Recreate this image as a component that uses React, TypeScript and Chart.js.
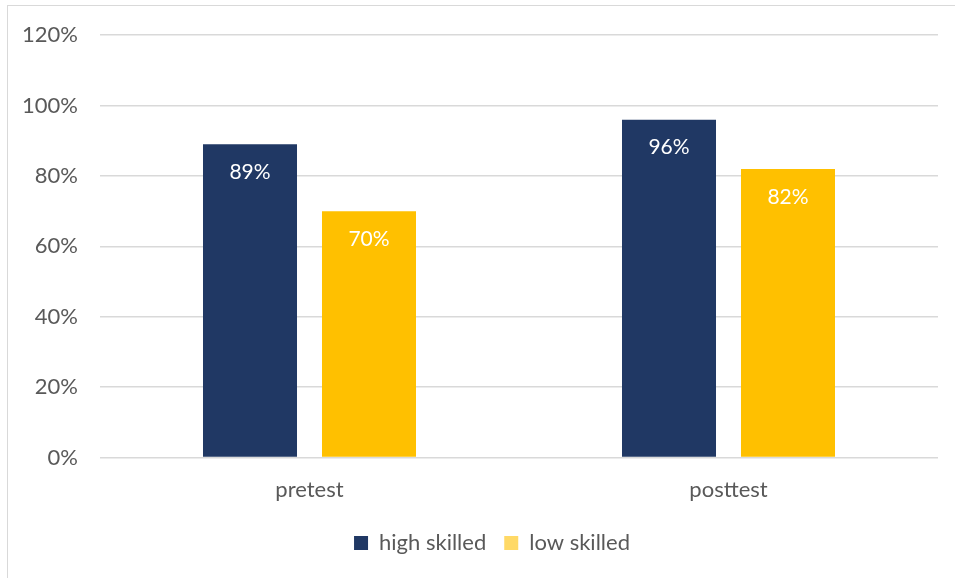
import React, { useEffect, useRef } from "react";
import { Chart, registerables } from "chart.js";

Chart.register(...registerables);

const categories = ["pretest", "posttest"];
const highSkilled = [89, 96];
const lowSkilled = [70, 82];
const seriesNames = ["high skilled", "low skilled"];
const yTicks = [0, 20, 40, 60, 80, 100, 120];

const FONT = "Lato, 'Open Sans', sans-serif";

const labelPlugin = {
  id: "barLabels",
  afterLayout(chart: any) {
    if (chart.legend) {
      chart.legend.left += 46;
    }
  },
  afterDatasetsDraw(chart: any) {
    const ctx = chart.ctx;
    ctx.save();
    ctx.fillStyle = "#ffffff";
    ctx.font = `21px ${FONT}`;
    ctx.textAlign = "center";
    ctx.textBaseline = "middle";
    chart.data.datasets.forEach((ds: any, i: number) => {
      const meta = chart.getDatasetMeta(i);
      meta.data.forEach((bar: any, j: number) => {
        ctx.fillText(`${ds.data[j]}%`, bar.x, bar.y + 28);
      });
    });
    ctx.restore();
  },
};

export default function App() {
  const ref = useRef<HTMLCanvasElement>(null);
  useEffect(() => {
    document.body.style.margin = "0";
    const chart = new Chart(ref.current!, {
      type: "bar",
      data: {
        labels: categories,
        datasets: [
          {
            label: seriesNames[0],
            data: highSkilled,
            backgroundColor: "#203864",
            categoryPercentage: 0.568,
            barPercentage: 0.79,
          },
          {
            label: seriesNames[1],
            data: lowSkilled,
            backgroundColor: "#FFC000",
            categoryPercentage: 0.568,
            barPercentage: 0.79,
          },
        ],
      },
      options: {
        animation: false,
        responsive: false,
        layout: { padding: { top: 21, right: 17, left: 0, bottom: 14 } },
        scales: {
          x: {
            grid: { display: false },
            border: { display: false },
            ticks: {
              color: "#595959",
              font: { family: FONT, size: 22 },
              padding: 11,
            },
          },
          y: {
            min: 0,
            max: 120,
            afterBuildTicks(scale: any) {
              scale.ticks = yTicks.map((v) => ({ value: v }));
            },
            afterFit(scale: any) {
              scale.width = 100;
            },
            grid: { color: "#d9d9d9", lineWidth: 1.5, drawTicks: false },
            border: { display: false },
            ticks: {
              color: "#595959",
              font: { family: FONT, size: 22 },
              padding: 22,
              callback: (v: any) => `${v}%`,
            },
          },
        },
        plugins: {
          legend: {
            position: "bottom",
            labels: {
              color: "#595959",
              font: { family: FONT, size: 22 },
              boxWidth: 14,
              boxHeight: 14,
              padding: 18,
              generateLabels: () =>
                seriesNames.map((n, i) => ({
                  text: n,
                  fillStyle: i === 0 ? "#203864" : "#FFD966",
                  strokeStyle: "transparent",
                  lineWidth: 0,
                  datasetIndex: i,
                  fontColor: "#595959",
                })),
            },
          },
          tooltip: { enabled: false },
        },
      },
      plugins: [labelPlugin],
    });
    return () => chart.destroy();
  }, []);
  return (
    <div style={{ position: "relative", width: 955, height: 578, background: "#fff" }}>
      <div
        style={{
          position: "absolute",
          left: 7,
          top: 5,
          right: 0,
          bottom: 0,
          borderTop: "1.5px solid #d9d9d9",
          borderLeft: "1.5px solid #d9d9d9",
        }}
      />
      <canvas ref={ref} width={955} height={578} style={{ position: "absolute", left: 0, top: 0 }} />
    </div>
  );
}
